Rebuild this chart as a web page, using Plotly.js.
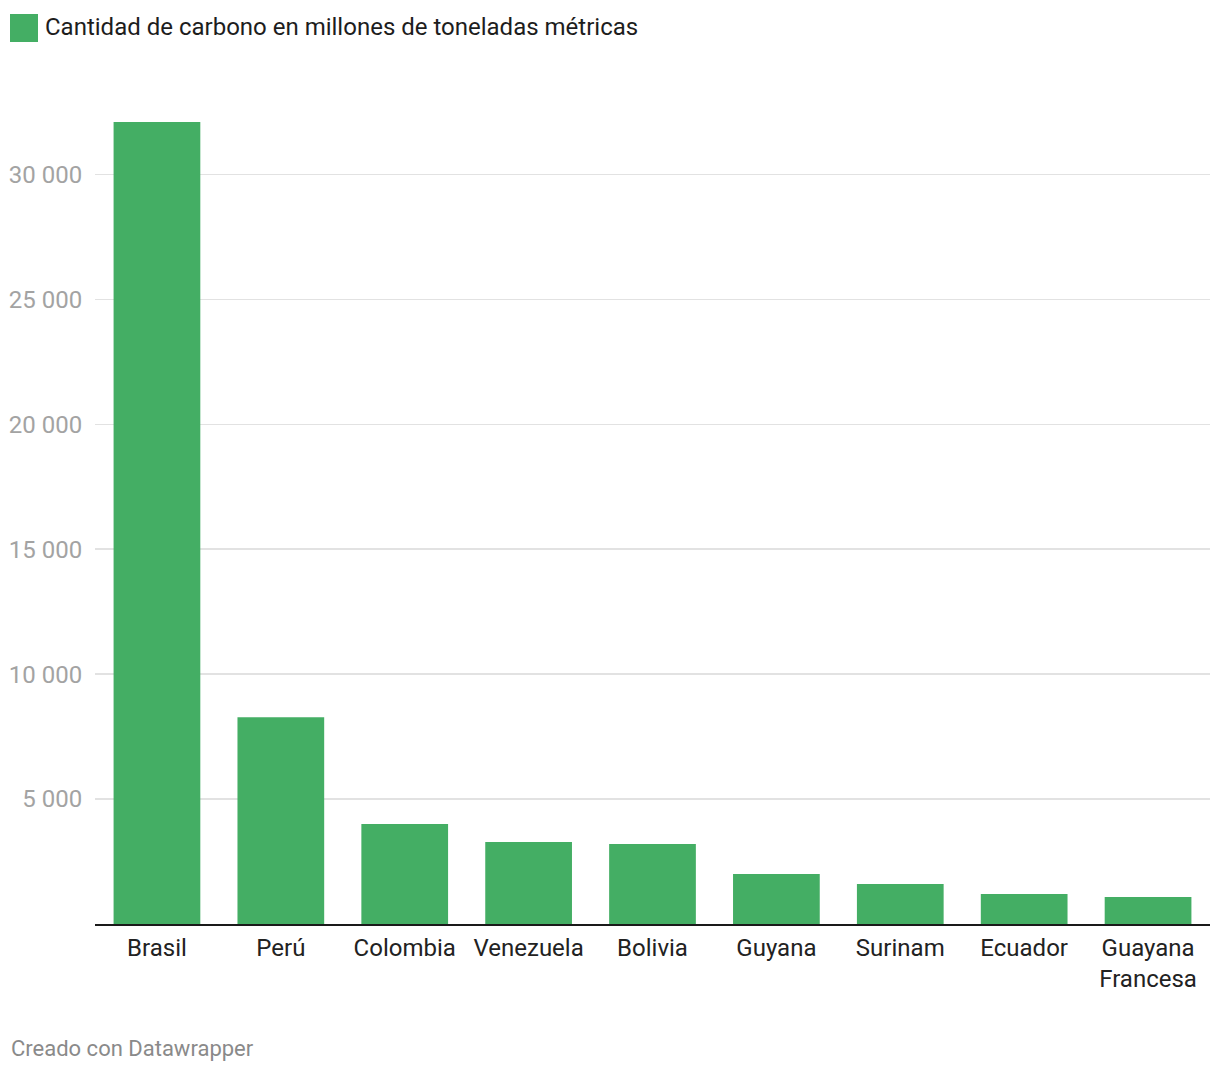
<!DOCTYPE html>
<html>
<head>
<meta charset="utf-8">
<script src="https://cdn.plot.ly/plotly-3.0.1.min.js"></script>
<style>
html,body{margin:0;padding:0;background:#fff;}
#chart{width:1220px;height:1074px;}
</style>
</head>
<body>
<div id="chart"></div>
<script>
const countries = ["Brasil", "Perú", "Colombia", "Venezuela", "Bolivia", "Guyana", "Surinam", "Ecuador", "Guayana<br>Francesa"];
const carbon = [32100, 8280, 4000, 3280, 3200, 2000, 1600, 1200, 1080];
const yTicks = [5000, 10000, 15000, 20000, 25000, 30000];
const seriesName = "Cantidad de carbono en millones de toneladas métricas";
const credit = "Creado con Datawrapper";
const green = "#44ae64";

const W = 1220, H = 1074;
const m = {l: 95, r: 10, t: 122, b: 150};
const pw = W - m.l - m.r, ph = H - m.t - m.b;
const px = x => (x - m.l) / pw;
const py = y => (H - m.b - y) / ph;

const trace = {
  type: "bar",
  x: countries,
  y: carbon,
  name: seriesName,
  marker: {color: green},
  hoverinfo: "x+y"
};

const layout = {
  width: W, height: H,
  margin: m,
  paper_bgcolor: "#fff",
  plot_bgcolor: "#fff",
  font: {family: "Roboto, sans-serif", size: 24, color: "#222"},
  separators: ", ",
  showlegend: false,
  bargap: 0.3,
  xaxis: {
    type: "category",
    showline: true, linecolor: "#1a1a1a", linewidth: 2,
    showgrid: false, zeroline: false,
    ticks: "outside", ticklen: 1, tickcolor: "rgba(0,0,0,0)",
    tickfont: {family: "Roboto, sans-serif", size: 24, color: "#222"},
    fixedrange: true
  },
  yaxis: {
    range: [0, 32100],
    tickmode: "array", tickvals: yTicks,
    tickformat: ",d",
    separatethousands: true,
    showgrid: true, gridcolor: "#e2e2e2", gridwidth: 1.5,
    zeroline: false, showline: false,
    ticks: "outside", ticklen: 7, tickcolor: "rgba(0,0,0,0)",
    tickfont: {family: "Roboto, sans-serif", size: 24, color: "#a3a3a3"},
    fixedrange: true
  },
  shapes: [{
    type: "rect", xref: "paper", yref: "paper",
    x0: px(10), x1: px(38), y0: py(42), y1: py(14),
    fillcolor: green, line: {width: 0}
  }],
  annotations: [{
    xref: "paper", yref: "paper", x: px(43), y: py(27),
    xanchor: "left", yanchor: "middle", showarrow: false,
    text: seriesName,
    font: {family: "Roboto, sans-serif", size: 24, color: "#1d1d1d"}
  }, {
    xref: "paper", yref: "paper", x: px(9), y: py(1048),
    xanchor: "left", yanchor: "middle", showarrow: false,
    text: credit,
    font: {family: "Roboto, sans-serif", size: 22, color: "#8a8a8a"}
  }]
};

Plotly.newPlot("chart", [trace], layout, {displayModeBar: false, staticPlot: true});
</script>
</body>
</html>
